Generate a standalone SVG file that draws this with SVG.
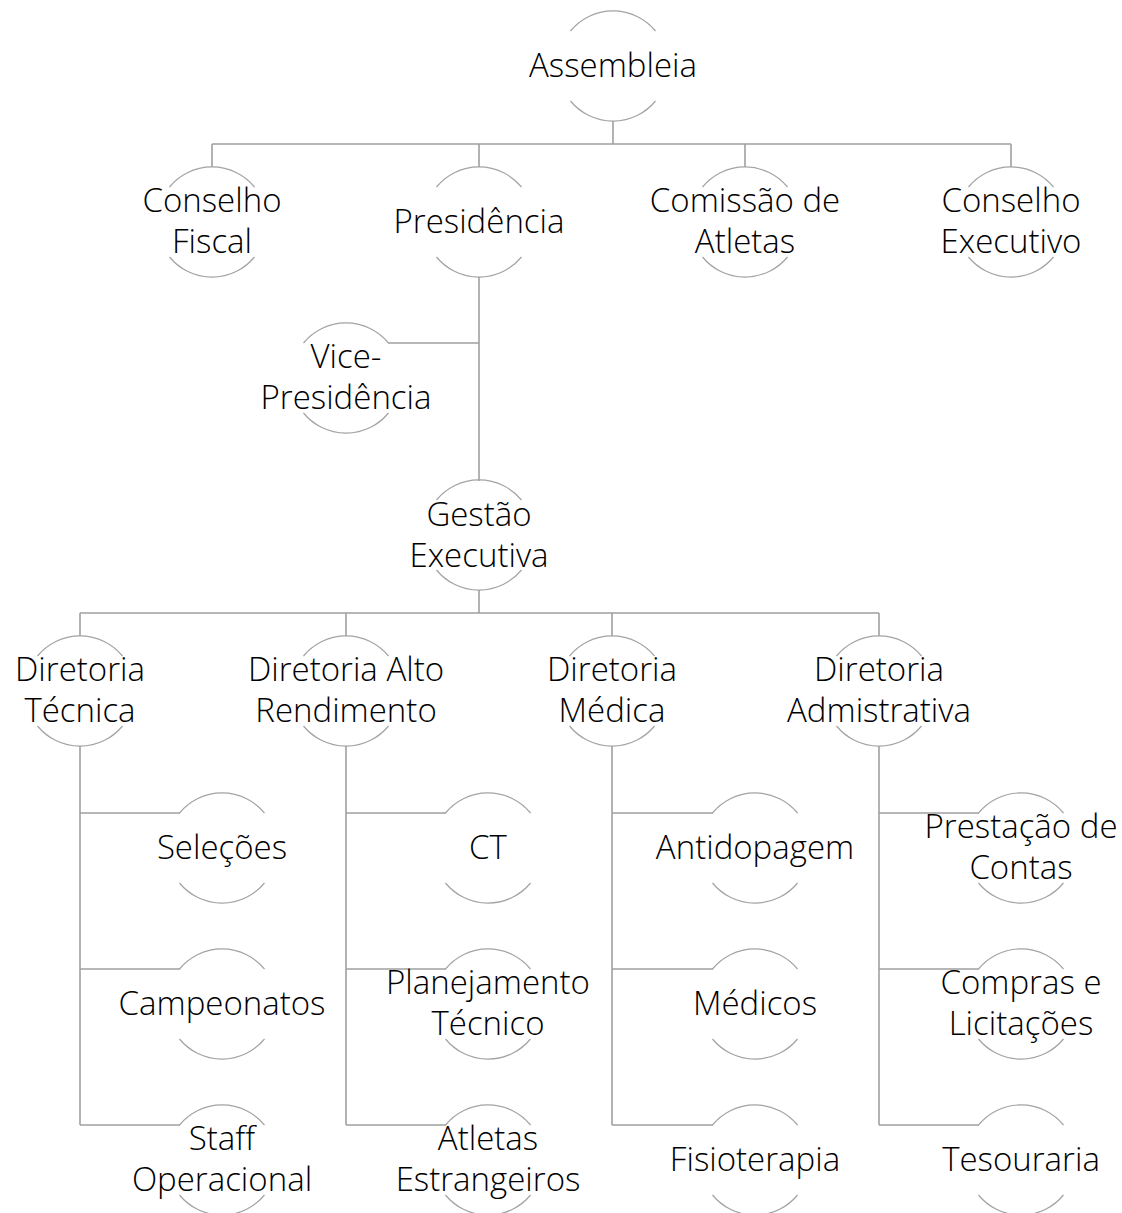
<svg xmlns="http://www.w3.org/2000/svg" xmlns:xlink="http://www.w3.org/1999/xlink" width="1122" height="1213" viewBox="0 0 1122 1213">
<style>
  .bg{fill:#ffffff}
  .ring{fill:none;stroke:#a3a3a3;stroke-width:1.2}
  .conn{fill:none;stroke:#a0a0a0;stroke-width:1.6}
  .lbl{font-family:"Open Sans","Liberation Sans",sans-serif;font-weight:300;font-size:33px;fill:#000000;text-anchor:middle}
</style>
<defs>
  <path id="ring" class="ring" d="M-42.5,-35 A55,55 0 0 1 42.5,-35 M-42.5,35 A55,55 0 0 0 42.5,35"/>
</defs>
<rect class="bg" x="0" y="0" width="1122" height="1213"/>
<g id="connectors">
  <path class="conn" d="M613,121 V144 M212,144 H1011 M212,144 V167 M479,144 V167 M745,144 V167 M1011,144 V167"/>
  <path class="conn" d="M479,277 V481 M479,343 H388"/>
  <path class="conn" d="M479,590 V613 M80,613 H879 M80,613 V636 M346,613 V636 M612,613 V636 M879,613 V636"/>
  <path class="conn" d="M80,746 V1125 M80,813 H180 M80,969 H180 M80,1125 H180"/>
  <path class="conn" d="M346,746 V1125 M346,813 H446 M346,969 H446 M346,1125 H446"/>
  <path class="conn" d="M612,746 V1125 M612,813 H713 M612,969 H713 M612,1125 H713"/>
  <path class="conn" d="M879,746 V1125 M879,813 H979 M879,969 H979 M879,1125 H979"/>
</g>
<g id="n-assembleia"><use xlink:href="#ring" transform="translate(613,66)"/><text class="lbl" x="613" y="77">Assembleia</text></g>
<g id="n-conselho-fiscal"><use xlink:href="#ring" transform="translate(212,222)"/><text class="lbl" x="212" y="212">Conselho</text><text class="lbl" x="212" y="253">Fiscal</text></g>
<g id="n-presidencia"><use xlink:href="#ring" transform="translate(479,222)"/><text class="lbl" x="479" y="233">Presidência</text></g>
<g id="n-comissao-atletas"><use xlink:href="#ring" transform="translate(745,222)"/><text class="lbl" x="745" y="212">Comissão de</text><text class="lbl" x="745" y="253">Atletas</text></g>
<g id="n-conselho-executivo"><use xlink:href="#ring" transform="translate(1011,222)"/><text class="lbl" x="1011" y="212">Conselho</text><text class="lbl" x="1011" y="253">Executivo</text></g>
<g id="n-vice-presidencia"><use xlink:href="#ring" transform="translate(346,378)"/><text class="lbl" x="346" y="368">Vice-</text><text class="lbl" x="346" y="409">Presidência</text></g>
<g id="n-gestao-executiva"><use xlink:href="#ring" transform="translate(479,535)"/><text class="lbl" x="479" y="526">Gestão</text><text class="lbl" x="479" y="567">Executiva</text></g>
<g id="n-dir-tecnica"><use xlink:href="#ring" transform="translate(80,691)"/><text class="lbl" x="80" y="681">Diretoria</text><text class="lbl" x="80" y="722">Técnica</text></g>
<g id="n-dir-alto"><use xlink:href="#ring" transform="translate(346,691)"/><text class="lbl" x="346" y="681">Diretoria Alto</text><text class="lbl" x="346" y="722">Rendimento</text></g>
<g id="n-dir-medica"><use xlink:href="#ring" transform="translate(612,691)"/><text class="lbl" x="612" y="681">Diretoria</text><text class="lbl" x="612" y="722">Médica</text></g>
<g id="n-dir-adm"><use xlink:href="#ring" transform="translate(879,691)"/><text class="lbl" x="879" y="681">Diretoria</text><text class="lbl" x="879" y="722">Admistrativa</text></g>
<g id="n-selecoes"><use xlink:href="#ring" transform="translate(222,848)"/><text class="lbl" x="222" y="859">Seleções</text></g>
<g id="n-campeonatos"><use xlink:href="#ring" transform="translate(222,1004)"/><text class="lbl" x="222" y="1015">Campeonatos</text></g>
<g id="n-staff"><use xlink:href="#ring" transform="translate(222,1160)"/><text class="lbl" x="222" y="1150">Staff</text><text class="lbl" x="222" y="1191">Operacional</text></g>
<g id="n-ct"><use xlink:href="#ring" transform="translate(488,848)"/><text class="lbl" x="488" y="859">CT</text></g>
<g id="n-planejamento"><use xlink:href="#ring" transform="translate(488,1004)"/><text class="lbl" x="488" y="994">Planejamento</text><text class="lbl" x="488" y="1035">Técnico</text></g>
<g id="n-atletas-estrangeiros"><use xlink:href="#ring" transform="translate(488,1160)"/><text class="lbl" x="488" y="1150">Atletas</text><text class="lbl" x="488" y="1191">Estrangeiros</text></g>
<g id="n-antidopagem"><use xlink:href="#ring" transform="translate(755,848)"/><text class="lbl" x="755" y="859">Antidopagem</text></g>
<g id="n-medicos"><use xlink:href="#ring" transform="translate(755,1004)"/><text class="lbl" x="755" y="1015">Médicos</text></g>
<g id="n-fisioterapia"><use xlink:href="#ring" transform="translate(755,1160)"/><text class="lbl" x="755" y="1171">Fisioterapia</text></g>
<g id="n-prestacao"><use xlink:href="#ring" transform="translate(1021,848)"/><text class="lbl" x="1021" y="838">Prestação de</text><text class="lbl" x="1021" y="879">Contas</text></g>
<g id="n-compras"><use xlink:href="#ring" transform="translate(1021,1004)"/><text class="lbl" x="1021" y="994">Compras e</text><text class="lbl" x="1021" y="1035">Licitações</text></g>
<g id="n-tesouraria"><use xlink:href="#ring" transform="translate(1021,1160)"/><text class="lbl" x="1021" y="1171">Tesouraria</text></g>
</svg>
